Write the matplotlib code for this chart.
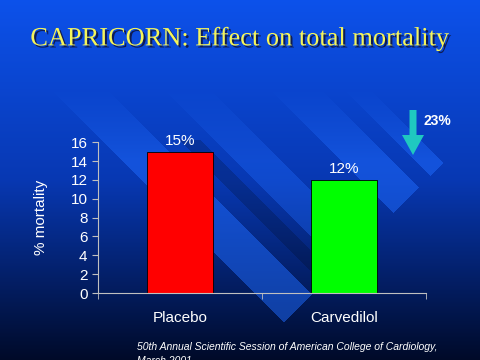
import matplotlib.pyplot as plt
import matplotlib.patheffects as pe
from matplotlib.patches import FancyArrow
import numpy as np

# data
groups = ["Placebo", "Carvedilol"]
mortality = [15, 12]
value_labels = ["15%", "12%"]
reduction_label = "23%"
yticks = [0, 2, 4, 6, 8, 10, 12, 14, 16]

fig = plt.figure(figsize=(4.8, 3.6), dpi=100)

# background: vertical gradient plus faint 45 degree bands
bg = fig.add_axes([0, 0, 1, 1])
bg.set_xlim(0, 480)
bg.set_ylim(360, 0)
bg.axis("off")
yy, xx = np.mgrid[0:360, 0:480].astype(float)
t = (yy / 359)[..., None]
top = np.array([0.05, 0.32, 0.92])
mid = np.array([0.03, 0.22, 0.70])
bot = np.array([0.0, 0.04, 0.16])
img = np.where(t < 0.5, top + (mid - top) * (t / 0.5), mid + (bot - mid) * ((t - 0.5) / 0.5))

u = xx - yy
v = xx + yy
fade = np.clip((yy - 90) / 70, 0, 1)
light = np.array([0.12, 0.42, 1.0])
for c1, c2, a, k in [(-38, 17, 0.5, 605), (75, 120, 0.35, 605), (181, 231, 0.5, 605), (255, 280, 0.5, 605)]:
    m = ((u >= c1) & (u <= c2) & (v <= k)) * fade * a
    img = img * (1 - m[..., None]) + light * m[..., None]
m = ((u >= 40) & (u <= 60) & (v <= 580) & (yy >= 140)) * 0.18
img = img * (1 - m[..., None])
bg.imshow(img, extent=[0, 480, 360, 0], aspect="auto", zorder=0)

# title
fig.text(0.5, 0.892, "CAPRICORN: Effect on total mortality", ha="center", va="center",
         fontsize=19, family="Liberation Serif", color="#f5f55a",
         path_effects=[pe.withSimplePatchShadow(offset=(1.5, -1.5), shadow_rgbFace="#101030", alpha=0.8)])

ax = fig.add_axes([0.204, 0.186, 0.683, 0.419])
ax.patch.set_alpha(0)
x = np.arange(len(groups))
bars = ax.bar(x, mortality, width=0.4, color=["#ff0000", "#00ff00"], edgecolor="black", linewidth=0.6)
for xi, val, lab in zip(x, mortality, value_labels):
    ax.text(xi, val + 0.4, lab, ha="center", va="bottom", color="white", fontsize=11, family="Liberation Sans")

ax.set_xlim(-0.5, 1.5)
ax.set_ylim(0, 16)
ax.set_yticks(yticks)
ax.set_xticks(x)
ax.set_xticklabels(groups)
ax.set_xticks([-0.5, 0.5, 1.5], minor=True)
ax.tick_params(axis="x", which="major", length=0, pad=13, labelsize=11, labelcolor="white")
ax.tick_params(axis="x", which="minor", length=4, color="#c0c0c0", direction="out")
ax.tick_params(axis="y", length=4, color="#c0c0c0", labelsize=11, labelcolor="white")
for lbl in ax.get_xticklabels() + ax.get_yticklabels():
    lbl.set_family("Liberation Sans")
ax.set_ylabel("% mortality", color="white", fontsize=11, family="Liberation Sans", labelpad=16)
for sp in ["top", "right"]:
    ax.spines[sp].set_visible(False)
for sp in ["left", "bottom"]:
    ax.spines[sp].set_color("#c0c0c0")

# reduction arrow
bg.add_patch(FancyArrow(413, 110, 0, 45, width=7, head_width=22, head_length=20,
                        length_includes_head=True, facecolor="#1fc8c0", edgecolor="none", zorder=3))
bg.text(437, 121, reduction_label, ha="center", va="center", color="white", fontsize=10,
        fontweight="bold", family="Liberation Sans", zorder=3)

# footnote
fig.text(137 / 480, 1 - 347 / 360, "50th Annual Scientific Session of American College of Cardiology,",
         ha="left", va="center", color="white", fontsize=7.5, style="italic", family="Liberation Sans")
fig.text(137 / 480, 1 - 361 / 360, "March 2001", ha="left", va="center", color="white",
         fontsize=7.5, style="italic", family="Liberation Sans")

fig.savefig("out.png", dpi=100)
